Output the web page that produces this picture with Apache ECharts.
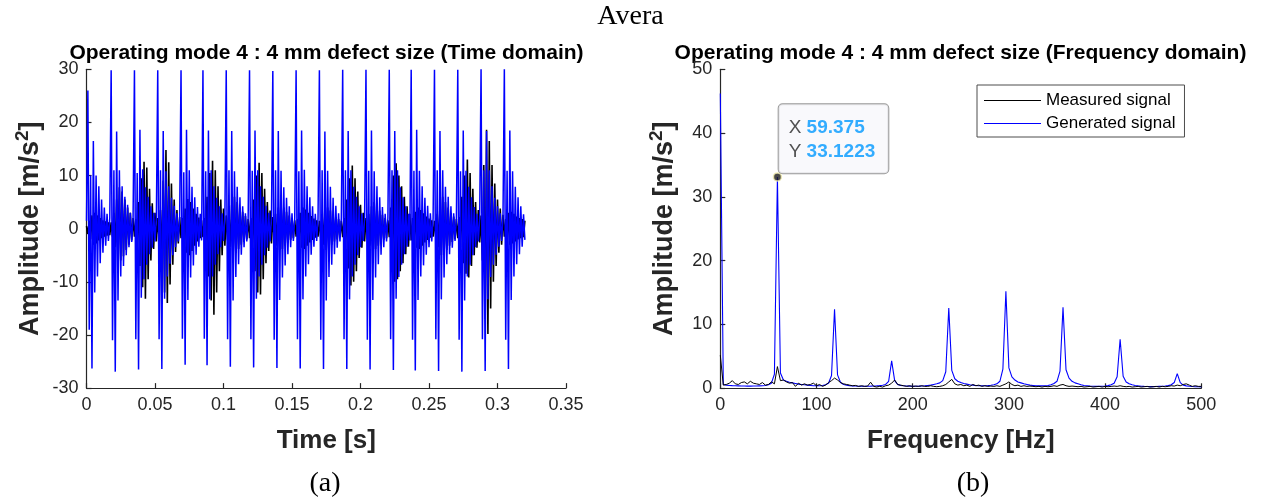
<!DOCTYPE html>
<html>
<head>
<meta charset="utf-8">
<script src="https://cdn.jsdelivr.net/npm/echarts@6/dist/echarts.min.js"></script>
<style>
html,body{margin:0;padding:0;background:#fff;}
#chart{width:1261px;height:498px;}
</style>
</head>
<body>
<div id="chart"></div>
<script>
// ---------------- DATA ----------------
const mainTitle = 'Avera';
const timeTitle = 'Operating mode 4 : 4 mm defect size (Time domain)';
const freqTitle = 'Operating mode 4 : 4 mm defect size (Frequency domain)';
const seriesNames = ['Measured signal', 'Generated signal'];
const captions = ['(a)', '(b)'];

// time-domain samples (sample period in seconds)
const sampleStep = 0.001;
const measured = [
  0.5, -1, 1.5, -2, 2.5, -3, 3, -2.8, 2.5, -2.2, 2, -1.8, 1.6, -1.5, 1.4, -1.3, 1.2, -1.2,
  1.2, -1.5, 3, -3.5, 5.5, -5, 7.8, -6, 7, -5.2, 5.5, -4, 4, -3, 3, -2.2, 2,
  -1.5, 1.8, -3, 5, -7, 9.5, -11, 12.6, -13.2, 11.5, -9.5, 7.5, -6, 4.8, -3.8, 3, -2.4,
  2, -2, 3.5, -6, 9, -12, 14.8, -14, 12.5, -10.5, 8.5, -6.8, 5.5, -4.4, 3.5, -2.8, 2.2,
  -1.8, 2, -2.8, 3.8, -4.5, 5.6, -5, 5, -4.2, 3.8, -3.2, 2.8, -2.4, 2.1, -1.8, 1.6,
  -1.6, 2, -4, 6, -9, 10.5, -13.5, 12.8, -16.2, 11, -12, 8, -8, 5.5, -5, 3.8, -3.2,
  2.5, -2.2, 3, -3.5, 4.5, -4.8, 6, -4.6, 5, -3.8, 4, -3, 3.2, -2.5, 2.4, -2, 1.8,
  -1.8, 2, -3.5, 5.5, -8, 10, -12, 12.4, -12.4, 10.5, -9.5, 7.5, -6.5, 5, -4.2, 3.4, -2.8,
  2.2, -2, 2.8, -3.2, 4, -4, 5, -3.8, 4, -3.2, 3.2, -2.6, 2.5, -2.1, 2, -1.8, 1.6,
  -1.5, 1.8, -2.5, 3, -3.6, 4, -3.8, 3.6, -3.2, 3, -2.6, 2.4, -2.1, 1.9, -1.7, 1.6, -1.5,
  1.5, -1.8, 2.5, -3, 3.8, -4, 4, -3.6, 3.4, -3, 2.8, -2.4, 2.2, -2, 1.8, -1.6, 1.5,
  -1.6, 2, -3.5, 5.5, -7.5, 9.5, -10.7, 11.9, -10, 9.5, -8, 7, -5.5, 4.5, -3.6, 3, -2.4,
  2, -2, 2.8, -3.2, 4.2, -4, 5, -3.8, 4.2, -3.2, 3.4, -2.6, 2.6, -2.1, 2, -1.8, 1.6,
  -1.6, 4, -7, 10, -10, 12.3, -9.5, 10, -8, 8, -6.5, 6, -4.8, 4.2, -3.4, 2.8,
  -2.2, 2, -2.6, 3.2, -3.6, 4, -3.8, 3.5, -3.2, 2.9, -2.6, 2.3, -2.1, 1.9, -1.7, 1.6, -1.5,
  1.5, -1.8, 2.8, -3.5, 4.5, -5, 6, -4.8, 5, -4, 4, -3.2, 3, -2.5, 2.3, -2, 1.8,
  -1.8, 2.2, -3.5, 6, -6.5, 10, -8.5, 13, -9.2, 10.5, -7, 7.5, -5, 5, -3.6, 3.5, -2.6,
  2.5, -6, 12, -17, 18.6, -19.8, 16.5, -15, 12, -10, 8.5, -7, 5.5, -4.5, 3.8, -3, 2.6,
  -1.5, 1.8, -2.5, 3, -3, 3.2, -2.8, 2.8, -2.4, 2.3, -2, 2, -1.8, 1.8, -1.6, 1.5
];
const generated = [
  1.5, 26, -19, 10, -26.3, 16.5, -12, 10, -9, 8, -6.5, 5.5, -4.5, 4, -3.2, 2.8, -2.3, 2,
  29.8, -21, 11, -26.9, 18.3, -13.5, 11, -9, 8, -7, 6, -5, 4.5, -3.5, 3, -2.5, 2,
  29.8, -20.8, 10.5, -26.5, 18.6, -13, 11.2, -9.5, 7.8, -6.8, 6, -4.8, 4.2, -3.6, 3, -2.4, 2,
  29.8, -20.8, 11, -26.4, 18.4, -13.2, 10.8, -9, 8, -6.6, 5.8, -5, 4.3, -3.5, 2.9, -2.4, 2,
  29.8, -20.7, 10.6, -25.6, 18.6, -13.4, 11, -9.2, 7.9, -6.9, 5.9, -4.9, 4.1, -3.4, 2.8, -2.2,
  29.8, -20.7, 10.8, -25.7, 18.5, -13.3, 11, -9, 8, -6.8, 5.8, -4.8, 4.2, -3.5, 2.9, -2.3, 2,
  29.8, -20.8, 11, -26, 18.4, -13.5, 10.8, -9.1, 7.9, -6.7, 5.9, -4.9, 4.2, -3.5, 2.9, -2.4, 2,
  29.8, -20.8, 10.9, -26.1, 18.5, -13.2, 11, -9, 8, -6.8, 6, -5, 4.3, -3.6, 3, -2.4, 2,
  29.7, -20.9, 11, -26.2, 18.4, -13.4, 10.9, -9.2, 7.8, -6.9, 5.8, -4.8, 4.2, -3.5, 2.9, -2.3, 2,
  29.8, -20.8, 10.8, -26.3, 18.5, -13.3, 11.1, -9, 8, -6.7, 5.9, -4.9, 4.2, -3.4, 2.8, -2.3, 1.9,
  29.8, -20.9, 11, -26.4, 18.3, -13.5, 10.9, -9.1, 7.9, -6.8, 5.8, -4.8, 4.3, -3.6, 2.9, -2.4, 2,
  29.9, -20.8, 11, -26.4, 18.4, -13.3, 11, -9, 7.9, -6.8, 6, -5, 4.2, -3.5, 2.9, -2.3, 2,
  29.9, -20.9, 10.9, -26.5, 18.5, -13.4, 10.8, -9.2, 8, -6.7, 5.9, -4.9, 4.1, -3.5, 2.8, -2.4, 2,
  29.9, -20.8, 11, -26.6, 18.4, -13.2, 11, -9.1, 7.8, -6.8, 5.9, -4.8, 4.2, -3.4, 2.8, -2.2,
  29.9, -20.9, 10.9, -26.7, 18.6, -13.4, 10.9, -9, 8, -6.9, 5.8, -4.9, 4.3, -3.5, 2.9, -2.4, 2,
  29.9, -20.8, 11, -26.8, 18.4, -13.3, 11, -9.2, 7.9, -6.7, 6, -4.8, 4.2, -3.6, 2.9, -2.3, 2,
  29.9, -20.9, 10.8, -26.9, 18.5, -13.5, 10.9, -9, 7.9, -6.8, 5.9, -5, 4.1, -3.5, 2.8, -2.4, 2,
  30, -20.8, 11, -26.8, 18.4, -13.3, 11, -9.1, 8, -6.8, 5.8, -4.9, 4.2, -3.4, 2.9, -2.3, 2,
  30, -20.9, 10.9, -26.4, 18.5, -13.4, 10.8, -9, 7.9, -6.7, 5.9, -4.8, 4.2, -3.4, 2.7, -2.1
];

// spectrum bins (bin width in Hz)
const freqStep = 3.125;
const measuredSpectrum = [
  5.2, 0.5, 0.6, 0.8, 1.2, 0.7, 0.6, 0.9, 1.0, 0.7,
  1.1, 0.8, 0.7, 0.6, 0.9, 0.5, 0.6, 1.0, 0.7, 3.4,
  1.2, 1.3, 1.0, 0.8, 0.9, 0.3, 0.8, 0.5, 0.7, 0.5,
  0.6, 0.8, 0.4, 0.6, 0.3, 0.5, 0.9, 1.2, 1.6, 1.3,
  0.9, 0.7, 0.6, 0.5, 0.4, 0.45, 0.3, 0.4, 0.3, 0.35,
  0.95, 0.3, 0.2, 0.3, 0.2, 0.4, 0.5, 0.8, 1.3, 0.6,
  0.5, 0.4, 0.3, 0.4, 0.3, 0.35, 0.3, 0.4, 0.3, 0.3,
  0.4, 0.3, 0.25, 0.3, 0.4, 0.6, 1.0, 1.4, 0.7, 0.5,
  0.6, 0.4, 0.5, 0.3, 0.6, 0.4, 0.5, 0.3, 0.4, 0.3,
  0.35, 0.3, 0.4, 0.3, 0.5, 0.7, 1.0, 0.6, 0.4, 0.5,
  0.3, 0.4, 0.3, 0.35, 0.3, 0.25, 0.3, 0.2, 0.3, 0.25,
  0.3, 0.4, 0.3, 0.5, 0.6, 0.4, 0.3, 0.35, 0.3, 0.25,
  0.3, 0.2, 0.25, 0.3, 0.2, 0.25, 0.3, 0.2, 0.3, 0.25,
  0.3, 0.35, 0.3, 0.4, 0.3, 0.25, 0.3, 0.2, 0.25, 0.3,
  0.2, 0.25, 0.3, 0.2, 0.25, 0.3, 0.2, 0.3, 0.25, 0.3,
  0.4, 0.35, 0.5, 0.4, 0.6, 0.7, 0.5, 0.3, 0.4, 0.3,
  0.3
];
const generatedSpectrum = [
  46.2, 0.6, 0.5, 0.45, 0.42, 0.4, 0.38, 0.36, 0.35, 0.34,
  0.34, 0.35, 0.36, 0.38, 0.4, 0.45, 0.55, 0.8, 2.2, 33.1223,
  2.4, 1.3, 1.1, 0.95, 0.85, 0.75, 0.65, 0.6, 0.55, 0.5,
  0.45, 0.4, 0.4, 0.4, 0.45, 0.55, 0.8, 2.0, 12.4, 2.1,
  0.9, 0.6, 0.5, 0.42, 0.38, 0.35, 0.33, 0.32, 0.32, 0.33,
  0.34, 0.36, 0.38, 0.42, 0.48, 0.6, 1.1, 4.3, 1.2, 0.6,
  0.45, 0.4, 0.36, 0.34, 0.33, 0.33, 0.34, 0.36, 0.4, 0.45,
  0.5, 0.6, 0.7, 0.85, 1.2, 2.6, 12.6, 2.8, 1.5, 1.1,
  0.9, 0.75, 0.65, 0.55, 0.5, 0.45, 0.4, 0.4, 0.4, 0.42,
  0.48, 0.55, 0.7, 1.1, 3.0, 15.2, 3.2, 1.8, 1.3, 1.0,
  0.85, 0.7, 0.6, 0.5, 0.45, 0.4, 0.38, 0.38, 0.4, 0.45,
  0.55, 0.75, 1.1, 2.7, 12.7, 2.9, 1.6, 1.1, 0.85, 0.7,
  0.55, 0.45, 0.4, 0.35, 0.32, 0.3, 0.3, 0.32, 0.36, 0.42,
  0.55, 0.8, 1.8, 7.7, 1.9, 1.0, 0.7, 0.55, 0.45, 0.38,
  0.33, 0.3, 0.28, 0.27, 0.27, 0.28, 0.3, 0.32, 0.36, 0.42,
  0.55, 0.9, 2.3, 0.9, 0.5, 0.38, 0.32, 0.28, 0.25, 0.24,
  0.23
];
const datatip = [59.375, 33.1223];

// ---------------- CHART ----------------
const SANS = 'Liberation Sans';
const SERIF = 'Liberation Serif';
const AX = '#262626';
const toTime = arr => arr.map((v, i) => [Number((i * sampleStep).toFixed(4)), v]);
const toFreq = arr => arr.map((v, i) => [Number((i * freqStep).toFixed(4)), v]);

function axisCommon() {
  return {
    axisLine: { show: true, onZero: false, lineStyle: { color: AX, width: 1.2 } },
    axisTick: { show: true, inside: true, length: 5, lineStyle: { color: AX, width: 1.2 } },
    axisLabel: { color: AX, fontFamily: SANS, fontSize: 18, showMinLabel: true, showMaxLabel: true },
    splitLine: { show: false },
    nameTextStyle: { color: AX, fontFamily: SANS, fontSize: 26, fontWeight: 'bold' }
  };
}
function yNameStyle() {
  return {
    color: AX, fontFamily: SANS, fontSize: 27, fontWeight: 'bold', lineHeight: 35,
    rich: {
      sup: { color: AX, fontFamily: SANS, fontSize: 19, fontWeight: 'bold', lineHeight: 19, verticalAlign: 'top' }
    }
  };
}
const yName = 'Amplitude [m/s{sup|2}]';

const chart = echarts.init(document.getElementById('chart'), null, { renderer: 'canvas' });
const option = {
  animation: false,
  backgroundColor: '#fff',
  grid: [
    { left: 86.5, top: 69.3, width: 479.5, height: 318.8, containLabel: false },
    { left: 720.3, top: 69.3, width: 481, height: 319, containLabel: false }
  ],
  xAxis: [
    Object.assign(axisCommon(), {
      type: 'value', gridIndex: 0, min: 0, max: 0.35, interval: 0.05,
      name: 'Time [s]', nameLocation: 'middle', nameGap: 40
    }),
    Object.assign(axisCommon(), {
      type: 'value', gridIndex: 1, min: 0, max: 500, interval: 100,
      name: 'Frequency [Hz]', nameLocation: 'middle', nameGap: 40
    })
  ],
  yAxis: [
    Object.assign(axisCommon(), {
      type: 'value', gridIndex: 0, min: -30, max: 30, interval: 10,
      name: yName, nameLocation: 'middle', nameGap: 38, nameTextStyle: yNameStyle()
    }),
    Object.assign(axisCommon(), {
      type: 'value', gridIndex: 1, min: 0, max: 50, interval: 10,
      name: yName, nameLocation: 'middle', nameGap: 38, nameTextStyle: yNameStyle()
    })
  ],
  legend: {
    data: seriesNames,
    orient: 'vertical',
    left: 977, top: 85,
    icon: 'rect', itemWidth: 57, itemHeight: 1.2, itemGap: 6,
    padding: [7, 9, 5, 7],
    backgroundColor: '#fff',
    borderColor: '#4d4d4d', borderWidth: 1, borderRadius: 0,
    textStyle: { fontFamily: SANS, fontSize: 17, color: '#000', lineHeight: 17 },
    selectedMode: false
  },
  graphic: [
    { type: 'text', x: 630.5, y: 17, style: { text: mainTitle, font: '28px ' + SERIF, fill: '#000', align: 'center', verticalAlign: 'middle' } },
    { type: 'text', x: 326.5, y: 53, style: { text: timeTitle, font: 'bold 21px ' + SANS, fill: '#000', align: 'center', verticalAlign: 'middle' } },
    { type: 'text', x: 960.5, y: 53, style: { text: freqTitle, font: 'bold 21px ' + SANS, fill: '#000', align: 'center', verticalAlign: 'middle' } },
    { type: 'text', x: 325, y: 484, style: { text: captions[0], font: '28px ' + SERIF, fill: '#000', align: 'center', verticalAlign: 'middle' } },
    { type: 'text', x: 973, y: 484, style: { text: captions[1], font: '28px ' + SERIF, fill: '#000', align: 'center', verticalAlign: 'middle' } }
  ],
  series: [
    {
      name: seriesNames[0], type: 'line', xAxisIndex: 0, yAxisIndex: 0,
      data: toTime(measured), showSymbol: false, symbol: 'none',
      lineStyle: { color: '#000', width: 1.6 }, itemStyle: { color: '#000' }, z: 2
    },
    {
      name: seriesNames[1], type: 'line', xAxisIndex: 0, yAxisIndex: 0,
      data: toTime(generated), showSymbol: false, symbol: 'none',
      lineStyle: { color: '#0000ff', width: 1.5 }, itemStyle: { color: '#0000ff' }, z: 3
    },
    {
      name: seriesNames[1], type: 'line', xAxisIndex: 1, yAxisIndex: 1,
      data: toFreq(generatedSpectrum), showSymbol: false, symbol: 'none',
      lineStyle: { color: '#0000ff', width: 1.1 }, itemStyle: { color: '#0000ff' }, z: 2
    },
    {
      name: seriesNames[0], type: 'line', xAxisIndex: 1, yAxisIndex: 1,
      data: toFreq(measuredSpectrum), showSymbol: false, symbol: 'none',
      lineStyle: { color: '#000', width: 1 }, itemStyle: { color: '#000' }, z: 3
    },
    {
      name: 'datatip', type: 'scatter', xAxisIndex: 1, yAxisIndex: 1,
      data: [datatip], symbol: 'circle', symbolSize: 8, z: 10,
      itemStyle: { color: '#1a1a1a', borderColor: '#f3eeb0', borderWidth: 1.5 },
      label: {
        show: true, position: [6, -68],
        formatter: p => '{k|X} {v|' + p.value[0] + '}\n{k|Y} {v|' + p.value[1] + '}',
        backgroundColor: '#f7f8fb', borderColor: '#7f7f7f', borderWidth: 1, borderRadius: 4,
        padding: [11, 13, 9, 10], lineHeight: 24.5,
        fontFamily: SANS, fontSize: 19, color: AX,
        rich: {
          k: { fontFamily: SANS, fontSize: 19, color: AX, lineHeight: 24.5 },
          v: { fontFamily: SANS, fontSize: 19, fontWeight: 'bold', color: '#0099ff', lineHeight: 24.5 }
        }
      }
    }
  ]
};
chart.setOption(option);
</script>
</body>
</html>
